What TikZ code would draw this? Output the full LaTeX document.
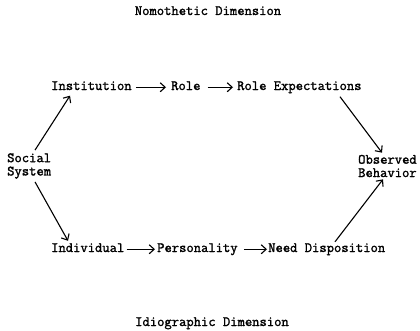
\documentclass[tikz,border=0pt]{standalone}
\usepackage{fontspec}
\usetikzlibrary{arrows.meta}
\newfontfamily\typewriter{Latin Modern Mono}[FakeBold=1.6,AutoFakeBold=1.6]
\begin{document}
\begin{tikzpicture}[x=1pt,y=1pt,
  lbl/.style={inner sep=0pt, font=\typewriter\bfseries\fontsize{14.2}{13.3}\selectfont,
    text height=8pt, text depth=2.5pt},
  stack/.style={lbl, align=left, text height=, text depth=},
  link/.style={line width=1.1pt, -{Straight Barb[length=5pt,width=9pt,line width=1.1pt]}}]
\useasboundingbox (0,0) rectangle (420,330);

% dimension titles
\node[lbl, anchor=base] (nomo) at (208,315) {Nomothetic Dimension};
\node[lbl, anchor=base] (idio) at (212,4) {Idiographic Dimension};

% nomothetic row
\node[lbl, anchor=base west] (inst) at (51,240) {Institution};
\node[lbl, anchor=base west] (role) at (171,240) {Role};
\node[lbl, anchor=base west] (roleexp) at (237,240) {Role Expectations};

% idiographic row
\node[lbl, anchor=base west] (indiv) at (51,78) {Individual};
\node[lbl, anchor=base west] (pers) at (157,78) {Personality};
\node[lbl, anchor=base west] (need) at (268,78) {Need Disposition};

% end points
\node[stack, anchor=west] (social) at (7,164) {Social\\System};
\node[stack, anchor=west] (observed) at (358,164) {Observed\\Behavior};

% horizontal links
\draw[link, shorten <=4pt, shorten >=5pt] (inst) -- (role);
\draw[link, shorten <=7pt, shorten >=4pt] (role) -- (roleexp);
\draw[link, shorten <=2pt, shorten >=2pt] (indiv) -- (pers);
\draw[link, shorten <=6pt, shorten >=1pt] (pers) -- (need);

% diagonal links
\draw[link] ([xshift=28pt,yshift=3pt]social.north west) -- ([xshift=19pt,yshift=-3pt]inst.south west);
\draw[link] ([xshift=28pt,yshift=-3pt]social.south west) -- ([xshift=17pt,yshift=3pt]indiv.north west);
\draw[link] ([xshift=103pt,yshift=-4pt]roleexp.south west) -- ([xshift=24pt,yshift=2pt]observed.north west);
\draw[link] ([xshift=67pt,yshift=2pt]need.north west) -- ([xshift=25pt,yshift=-2pt]observed.south west);
\end{tikzpicture}
\end{document}
